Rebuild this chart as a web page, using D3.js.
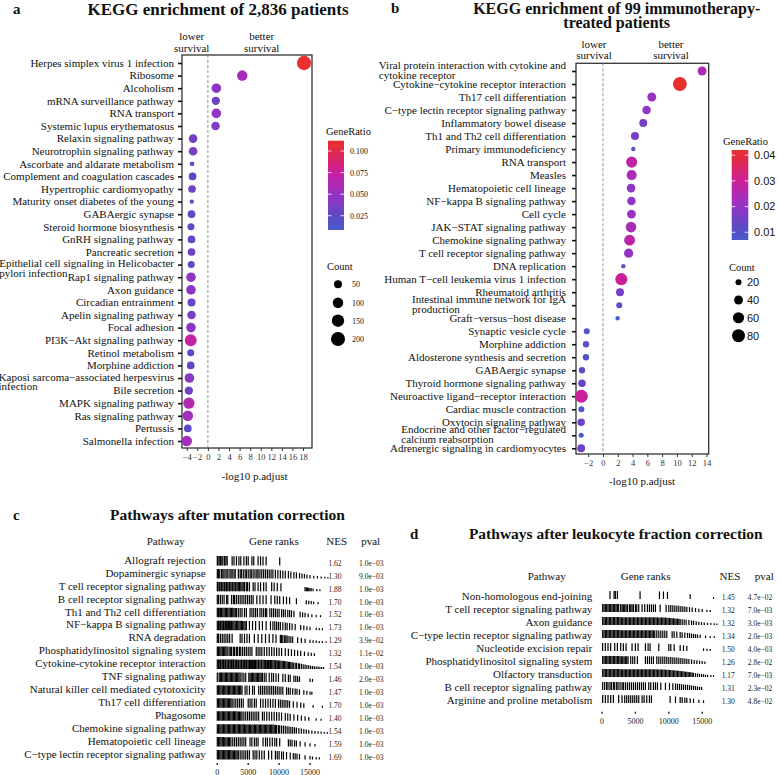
<!DOCTYPE html>
<html><head><meta charset="utf-8">
<script src="https://cdn.jsdelivr.net/npm/d3@7"></script>
<style>
body{margin:0;background:#fff}
svg{display:block}
text{font-family:"Liberation Serif","Times New Roman",serif;fill:#111}
</style>
</head><body>
<svg id="chart" width="779" height="775"></svg>
<script>
// ---------------- DATA ----------------
// Panel a
const aPathways = ["Herpes simplex virus 1 infection","Ribosome","Alcoholism","mRNA surveillance pathway","RNA transport","Systemic lupus erythematosus","Relaxin signaling pathway","Neurotrophin signaling pathway","Ascorbate and aldarate metabolism","Complement and coagulation cascades","Hypertrophic cardiomyopathy","Maturity onset diabetes of the young","GABAergic synapse","Steroid hormone biosynthesis","GnRH signaling pathway","Pancreatic secretion","Epithelial cell signaling in Helicobacter\npylori infection","Rap1 signaling pathway","Axon guidance","Circadian entrainment","Apelin signaling pathway","Focal adhesion","PI3K\u2212Akt signaling pathway","Retinol metabolism","Morphine addiction","Kaposi sarcoma\u2212associated herpesvirus\ninfection","Bile secretion","MAPK signaling pathway","Ras signaling pathway","Pertussis","Salmonella infection"];
const aLogP = [18.2,6.5,1.6,1.5,1.6,1.45,-2.8,-2.8,-3.0,-2.9,-3.0,-3.05,-3.1,-3.2,-3.1,-3.1,-3.15,-3.2,-3.2,-3.1,-3.1,-3.2,-3.25,-3.25,-3.25,-3.5,-3.6,-3.6,-3.8,-3.8,-4.0];
const aCount = [210,100,80,55,80,60,60,60,10,45,45,8,45,35,45,45,35,80,80,50,60,80,135,35,45,80,55,120,100,45,100];
const aGeneRatio = [0.112,0.057,0.045,0.032,0.048,0.038,0.035,0.036,0.014,0.028,0.03,0.013,0.028,0.024,0.03,0.03,0.025,0.045,0.045,0.03,0.036,0.045,0.072,0.024,0.028,0.042,0.033,0.063,0.053,0.026,0.055];
const aXTicks = [-4,-2,0,2,4,6,8,10,12,14,16,18];
const aRatioTicks = [0.025,0.05,0.075,0.1];
const aCountLegend = [50,100,150,200];

// Panel b
const bPathways = ["Viral protein interaction with cytokine and\ncytokine receptor","Cytokine\u2212cytokine receptor interaction","Th17 cell differentiation","C\u2212type lectin receptor signaling pathway","Inflammatory bowel disease","Th1 and Th2 cell differentiation","Primary immunodeficiency","RNA transport","Measles","Hematopoietic cell lineage","NF\u2212kappa B signaling pathway","Cell cycle","JAK\u2212STAT signaling pathway","Chemokine signaling pathway","T cell receptor signaling pathway","DNA replication","Human T\u2212cell leukemia virus 1 infection","Rheumatoid arthritis","Intestinal immune network for IgA\nproduction","Graft\u2212versus\u2212host disease","Synaptic vesicle cycle","Morphine addiction","Aldosterone synthesis and secretion","GABAergic synapse","Thyroid hormone signaling pathway","Neuroactive ligand\u2212receptor interaction","Cardiac muscle contraction","Oxytocin signaling pathway","Endocrine and other factor\u2212regulated\ncalcium reabsorption","Adrenergic signaling in cardiomyocytes"];
const bLogP = [13.4,10.4,6.6,5.9,5.45,4.33,4.1,3.88,3.88,3.8,3.85,3.85,3.79,3.6,3.47,2.75,2.48,2.3,2.2,1.98,-2.2,-2.3,-2.3,-2.84,-2.84,-2.93,-2.93,-2.95,-2.95,-2.95];
const bCount = [40,90,40,37,33,33,12,60,50,38,37,40,55,58,42,12,70,33,20,12,20,22,22,22,30,80,20,30,15,32];
const bGeneRatio = [0.025,0.042,0.021,0.02,0.016,0.017,0.008,0.028,0.024,0.019,0.019,0.021,0.024,0.027,0.02,0.008,0.03,0.016,0.011,0.007,0.009,0.01,0.01,0.011,0.014,0.03,0.009,0.015,0.007,0.015];
const bXTicks = [-2,0,2,4,6,8,10,12,14];
const bRatioTicks = [0.01,0.02,0.03,0.04];
const bCountLegend = [20,40,60,80];

// Panel c (gene ranks written in hundreds)
const cPathways = ["Allograft rejection","Dopaminergic synapse","T cell receptor signaling pathway","B cell receptor signaling pathway","Th1 and Th2 cell differentiation","NF\u2212kappa B signaling pathway","RNA degradation","Phosphatidylinositol signaling system","Cytokine-cytokine receptor interaction","TNF signaling pathway","Natural killer cell mediated cytotoxicity","Th17 cell differentiation","Phagosome","Chemokine signaling pathway","Hematopoietic cell lineage","C\u2212type lectin receptor signaling pathway"];
const cNES = [1.62,1.30,1.88,1.70,1.52,1.73,1.29,1.32,1.54,1.46,1.47,1.70,1.40,1.54,1.59,1.69];
const cPval = [1.0e-3,9.0e-3,1.0e-3,1.0e-3,1.0e-3,1.0e-3,3.9e-2,1.1e-2,1.0e-3,2.0e-3,1.0e-3,1.0e-3,1.0e-3,1.0e-3,1.0e-3,1.0e-3];
const cRanks = [
"0 1 3 5 6 8 11 12 14 16 24 27 31 35 38 43 47 50 56 59 66 70 74 79 101",
"0 2 4 7 9 11 14 16 19 22 24 27 29 34 37 39 42 45 47 50 53 55 58 61 64 66 69 72 75 78 81 84 87 90 94 98 102 106 110 115 119 124 128 133 137 141 145 150 156 162 168 174 179",
"0 1 3 4 6 7 9 11 12 14 15 17 19 20 22 24 25 27 29 30 32 34 36 38 40 42 44 47 49 52 58 61 66 70 75 79 88 92 97 103 142 144 146 148 150 152 155 161 166",
"0 2 5 8 11 15 17 23 26 28 31 34 37 40 43 46 49 52 55 58 64 69 74 79 87 93 97 101 107 112 117 128 144 148 152 156 163",
"0 2 3 5 7 9 11 13 15 17 19 21 23 25 27 29 31 34 37 40 44 47 53 56 59 62 65 69 72 75 78 80 85 88 91 94 97 100 104 107 110 114 117 120 124 134 138 142 147 153 160 167",
"0 2 3 5 6 8 10 11 13 15 16 18 20 21 23 25 27 29 31 33 35 37 39 41 43 45 47 52 57 62 68 73 79 86 90 93 96 99 102 106 110 113 117 121 126 135 140 145 150 160 165 170",
"0 2 5 8 11 14 17 20 24 37 40 44 48 52 60 66 72 78 84 90 95 102 104 106 109 111 113 116 119 122 130 136 142 150 155 160 165 170 176",
"0 2 4 6 8 10 12 14 16 19 21 23 26 28 31 33 36 38 41 44 47 50 53 56 63 66 69 72 76 80 84 88 92 96 100 104 110 115 120 125 130 135 141 147 152 157",
"0 2 3 5 6 8 10 11 13 14 16 18 19 21 23 24 26 27 29 31 32 34 35 37 39 40 42 44 45 47 48 50 52 54 55 57 59 60 62 64 66 67 69 71 72 74 76 78 79 81 83 85 86 88 90 92 94 95 97 99 101 103 105 107 109 111 113 115 117 119 121 123 126 128 131 133 136 139 142 145 148 151 154 157 160 163 166 169 172",
"0 3 5 7 9 11 13 15 17 19 21 23 25 27 29 31 33 35 37 40 43 46 51 53 55 57 59 61 63 65 67 69 71 73 76 79 84 88 91 95 99 106 110 115 118 124 127 130 133 150 154",
"0 2 4 6 8 10 12 14 16 18 20 22 24 26 28 30 32 34 36 38 40 45 48 52 57 60 67 70 73 76 79 82 85 88 91 94 97 100 103 106 112 115 118 122 126 129 133 140 145 150 153",
"0 2 4 6 8 10 12 14 16 18 20 22 24 27 30 33 36 39 42 50 53 56 60 63 70 74 78 82 86 90 94 99 102 105 108 111 114 117 123 129 135 140 155 170",
"0 2 4 6 8 10 12 14 16 18 20 22 24 26 28 30 32 34 36 38 40 43 46 49 52 55 58 61 64 67 73 76 80 84 88 92 96 100 104 110 114 118 124 130 136 142 148 160 168",
"0 2 4 6 8 10 12 14 16 18 20 22 24 26 28 30 32 34 36 38 40 42 44 46 48 50 52 54 56 58 60 62 64 66 68 70 72 74 76 78 80 82 84 86 88 90 92 94 96 99 101 104 107 110 113 116 119 122 125 128 132 136 140 144 148 153 158 163 168 173 178",
"0 2 4 6 8 10 12 14 16 18 20 22 25 28 31 34 37 40 43 46 53 56 60 63 66 74 78 81 85 89 93 96 101 115 118 121 125 128 134 142 150 158",
"0 2 4 6 8 10 12 14 16 18 20 22 24 26 28 30 32 34 37 40 43 46 49 52 58 61 64 68 72 76 83 88 94 97 100 104 107 112 118 123 126 129 133 142 150 154 160 165"
];

// Panel d (gene ranks written in hundreds)
const dPathways = ["Non-homologous end-joining","T cell receptor signaling pathway","Axon guidance","C\u2212type lectin receptor signaling pathway","Nucleotide excision repair","Phosphatidylinositol signaling system","Olfactory transduction","B cell receptor signaling pathway","Arginine and proline metabolism"];
const dNES = [1.45,1.32,1.32,1.34,1.50,1.26,1.17,1.31,1.30];
const dPval = [4.7e-2,7.0e-3,3.0e-3,2.0e-3,4.0e-3,2.8e-2,7.0e-3,2.3e-2,4.8e-2];
const dRanks = [
"12 18 20 23 57 86 92 98 132 167",
"1 3 5 7 9 11 13 15 17 19 21 23 25 28 30 32 34 36 38 41 43 45 47 50 52 55 60 64 68 71 74 77 80 87 96 100 103 106 109 112 115 118 121 124 127 131 135 140 145 150 157 162",
"1 3 5 7 9 11 13 15 17 19 21 23 25 27 29 31 33 35 37 39 41 43 45 47 49 51 53 55 57 59 61 63 65 67 69 71 73 75 77 79 81 83 85 87 89 91 93 95 97 99 101 103 105 107 109 111 113 115 117 120 123 126 130 134 137 141 145 149 153 158 163 168 172",
"1 3 5 7 9 11 13 15 17 19 21 23 25 27 29 31 33 35 37 39 41 43 45 47 49 51 53 55 57 59 61 63 65 67 69 71 73 75 77 79 82 85 88 91 94 97 105 108 112 117 120 124 128 131 134 137 140 143 147 155 162 168",
"1 5 9 13 19 23 28 32 36 45 50 54 65 69 72 85 100 103 108 117 122 127 152 157 162",
"1 3 5 7 9 11 13 15 17 19 21 23 25 27 29 31 33 35 37 39 43 46 49 53 65 68 71 74 77 82 85 88 91 94 97 100 103 106 109 112 115 118 121 124 127 130 134 138 142 146 150 154",
"1 3 5 7 9 11 13 15 17 19 21 23 25 27 29 31 33 35 37 39 41 43 45 47 49 51 53 55 57 59 61 63 65 67 69 71 73 75 77 79 81 83 85 87 89 91 93 95 97 99 101 103 105 107 109 111 113 115 117 119 121 123 125 127 129 131 133 135 137 140 143 146 149 152 155 158 163 167",
"1 4 7 9 12 14 17 19 22 24 27 30 32 35 38 41 44 47 50 53 56 59 62 65 70 73 77 80 83 88 95 101 106 110 113 116 119 122 125 128 131 134 137 140 143 146 149",
"1 5 9 13 17 25 30 34 37 40 43 46 49 52 55 60 63 67 71 74 102 110 117 120 124 127 132 137 145 152"
];
const rankTicks = [0,5000,10000,15000];
// relative ranked-statistic profile (controls tick heights)
const statRanks = [0,9000,11000,13000,14500,15500,17000,18500];
const statValues = [1,0.95,0.82,0.62,0.42,0.3,0.2,0.14];

// colour ramp of GeneRatio (fraction of range -> colour)
const rampStops = [0,0.16,0.4,0.64,0.88,1];
const rampColors = ["#4A5CC8","#5E48C4","#9A32C4","#C8209E","#E02848","#E8302E"];

// ---------------- DRAW ----------------
const svg = d3.select("#chart");
const SANS = '"Liberation Sans",Arial,sans-serif';

function txt(g, x, y, s, opt={}) {
  const t = g.append("text").attr("x", x).attr("y", y).text(s)
    .attr("font-size", opt.size || 11)
    .attr("text-anchor", opt.anchor || "start");
  if (opt.weight) t.attr("font-weight", opt.weight);
  if (opt.family) t.style("font-family", opt.family);
  if (opt.fill) t.style("fill", opt.fill);
  return t;
}

function dotPanel(o) {
  const g = svg.append("g");
  const x = d3.scaleLinear().domain(o.xDomain).range([o.box[0], o.box[2]]);
  const y = d3.scalePoint().domain(o.pathways).range(o.yRange);
  const r = d3.scaleSqrt().domain(o.sizeDomain).range(o.sizeRange);
  const [c0, c1] = o.colorDomain;
  const color = d3.scaleLinear().domain(rampStops.map(t => c0 + t * (c1 - c0))).range(rampColors);

  // frame and zero line
  g.append("rect").attr("x", o.box[0]).attr("y", o.box[1])
    .attr("width", o.box[2] - o.box[0]).attr("height", o.box[3] - o.box[1])
    .attr("fill", "none").attr("stroke", "#333").attr("stroke-width", 1.3);
  g.append("line").attr("x1", x(0)).attr("x2", x(0)).attr("y1", o.box[1]).attr("y2", o.box[3])
    .attr("stroke", "#777").attr("stroke-width", 0.8).attr("stroke-dasharray", "3,2");

  // x axis
  const xa = g.append("g").attr("transform", `translate(0,${o.box[3]})`)
    .call(d3.axisBottom(x).tickValues(o.xTicks).tickSize(3).tickPadding(3));
  xa.select(".domain").remove();
  xa.selectAll(".tick line").attr("stroke", "#333");
  xa.selectAll(".tick text").attr("font-size", 8.5).style("font-family", '"Liberation Serif",serif').style("fill", "#333");

  // y axis ticks
  const ya = g.append("g").attr("transform", `translate(${o.box[0]},0)`)
    .call(d3.axisLeft(y).tickSize(4).tickFormat(""));
  ya.select(".domain").remove();
  ya.selectAll(".tick line").attr("stroke", "#111").attr("stroke-width", 1.6);

  // y labels (multi-line: first line right aligned, second aligned to its start)
  o.pathways.forEach(p => {
    const lines = p.split("\n");
    const yy = y(p);
    if (lines.length === 1) {
      txt(g, o.labelX, yy + 3.8, p, {anchor: "end", size: 11});
    } else {
      const t1 = txt(g, o.labelX, yy + o.ml[0] + 3.8, lines[0], {anchor: "end", size: 11});
      const w = t1.node().getComputedTextLength();
      txt(g, o.labelX - w, yy + o.ml[1] + 3.8, lines[1], {anchor: "start", size: 11});
    }
  });

  // dots
  g.selectAll("circle.dot").data(o.pathways).join("circle")
    .attr("cx", (d, i) => x(o.logp[i])).attr("cy", d => y(d))
    .attr("r", (d, i) => r(o.count[i]))
    .attr("fill", (d, i) => color(o.ratio[i]));

  // survival annotations
  txt(g, o.lowerX, o.annY[0], "lower", {anchor: "middle", size: 11});
  txt(g, o.lowerX, o.annY[1], "survival", {anchor: "middle", size: 11});
  txt(g, o.betterX, o.annY[0], "better", {anchor: "middle", size: 11});
  txt(g, o.betterX, o.annY[1], "survival", {anchor: "middle", size: 11});

  // axis title
  txt(g, o.axisTitleX, o.axisTitleY, "-log10 p.adjust", {anchor: "middle", size: 11});

  // colour legend
  const L = o.legend;
  txt(g, L.titleX, L.titleY, "GeneRatio", {size: 10.5});
  const gid = "grad" + o.id;
  const grad = svg.append("defs").append("linearGradient").attr("id", gid)
    .attr("x1", 0).attr("y1", 1).attr("x2", 0).attr("y2", 0);
  d3.range(0, 1.0001, 0.05).forEach(t => {
    grad.append("stop").attr("offset", t).attr("stop-color", color(c0 + t * (c1 - c0)));
  });
  g.append("rect").attr("x", L.barX).attr("y", L.barY0).attr("width", L.barW).attr("height", L.barY1 - L.barY0)
    .attr("fill", `url(#${gid})`);
  const cy = d3.scaleLinear().domain([c0, c1]).range([L.barY1, L.barY0]);
  o.ratioTicks.forEach(v => {
    [[L.barX, L.barX + 3.5], [L.barX + L.barW - 3.5, L.barX + L.barW]].forEach(([a, b]) =>
      g.append("line").attr("x1", a).attr("x2", b).attr("y1", cy(v)).attr("y2", cy(v))
        .attr("stroke", "#fff").attr("stroke-width", 0.8));
    txt(g, L.labX, cy(v) + (L.labSans ? 3.8 : 3), d3.format(L.fmt)(v),
      {size: L.labSize, family: L.labSans ? SANS : null});
  });
  // size legend
  txt(g, L.countX, L.countY, "Count", {size: 10.5});
  o.countLegend.forEach((v, i) => {
    g.append("circle").attr("cx", L.dotX).attr("cy", L.dotY[i]).attr("r", r(v)).attr("fill", "#000");
    txt(g, L.dotLabX, L.dotY[i] + (L.labSans ? 3.8 : 3), v, {size: L.labSize, family: L.labSans ? SANS : null});
  });
}

dotPanel({
  id: "a", pathways: aPathways, logp: aLogP, count: aCount, ratio: aGeneRatio,
  xDomain: [-4.9, 19.7], box: [182, 55, 312, 448], yRange: [63, 441],
  xTicks: aXTicks, sizeDomain: [50, 200], sizeRange: [4, 7], colorDomain: [0.0085, 0.112],
  labelX: 174, ml: [-1, 8.5], lowerX: 191.7, betterX: 261.7, annY: [39.5, 51.5],
  axisTitleX: 254.5, axisTitleY: 479.5, ratioTicks: aRatioTicks, countLegend: aCountLegend,
  legend: {titleX: 326, titleY: 134.5, barX: 328, barY0: 140.7, barY1: 230, barW: 16, labX: 350, fmt: ".3f", labSize: 8,
    countX: 327, countY: 270, dotX: 338, dotY: [284.3, 302.7, 320.7, 339], dotLabX: 352, labSans: false}
});

dotPanel({
  id: "b", pathways: bPathways, logp: bLogP, count: bCount, ratio: bGeneRatio,
  xDomain: [-3.65, 14.3], box: [576, 63.3, 708.7, 454], yRange: [71, 448.3],
  xTicks: bXTicks, sizeDomain: [20, 80], sizeRange: [3, 6.5], colorDomain: [0.007, 0.042],
  labelX: 566, ml: [-6, 4], lowerX: 594, betterX: 671, annY: [47.5, 59],
  axisTitleX: 642, axisTitleY: 485, ratioTicks: bRatioTicks, countLegend: bCountLegend,
  legend: {titleX: 723, titleY: 145, barX: 731.7, barY0: 150, barY1: 240, barW: 16.6, labX: 754, fmt: ".2f", labSize: 11,
    countX: 729, countY: 270.5, dotX: 738.5, dotY: [282.3, 300, 317.7, 335.7], dotLabX: 747, labSans: true}
});

// panel titles
txt(svg, 13, 13.5, "a", {size: 15, weight: "bold"});
txt(svg, 218, 14.5, "KEGG enrichment of 2,836 patients", {size: 17, weight: "bold", anchor: "middle"});
txt(svg, 391, 12.5, "b", {size: 15, weight: "bold"});
txt(svg, 616.7, 13.5, "KEGG enrichment of 99 immunotherapy-", {size: 16, weight: "bold", anchor: "middle"});
txt(svg, 616.7, 28, "treated patients", {size: 16, weight: "bold", anchor: "middle"});

// ---------- GSEA tables ----------
const fmtP = p => {
  const [m, e] = p.toExponential(1).split("e");
  return m + "e" + (e[0] === "-" ? "\u2212" : "+") + String(Math.abs(+e)).padStart(2, "0");
};
const stat = d3.scaleLinear().domain(statRanks).range(statValues).clamp(true);

function gseaPanel(o) {
  const g = svg.append("g");
  const y = d3.scalePoint().domain(o.pathways).range(o.yRange);
  const x = d3.scaleLinear().domain([0, 15000]).range(o.xRange);
  txt(g, o.letterX, o.titleY, o.letter, {size: 15, weight: "bold"});
  txt(g, o.titleX, o.titleY, o.title, {size: 15.5, weight: "bold", anchor: "middle"});
  txt(g, o.head[0], o.headY, "Pathway", {size: 11, anchor: "middle"});
  txt(g, o.head[1], o.headY, "Gene ranks", {size: 11, anchor: "middle"});
  txt(g, o.head[2], o.headY, "NES", {size: 11, anchor: "middle"});
  txt(g, o.head[3], o.headY, "pval", {size: 11, anchor: "middle"});
  o.pathways.forEach((p, i) => {
    const yy = y(p);
    txt(g, o.labelX, yy + 3.8, p, {size: 11, anchor: "end"});
    const ranks = o.ranks[i].split(" ").map(v => +v * 100);
    const base = yy + o.barBase;
    g.append("g").selectAll("line").data(ranks).join("line")
      .attr("x1", d => x(d)).attr("x2", d => x(d))
      .attr("y1", base).attr("y2", d => base - o.barH * stat(d))
      .attr("stroke", "#000").attr("stroke-width", 1.2);
    txt(g, o.nesX, yy + o.valDy, d3.format(".2f")(o.nes[i]), {size: 7.5, anchor: "middle", fill: "#222"});
    txt(g, o.pvalX, yy + o.valDy, fmtP(o.pval[i]), {size: 7.5, anchor: "middle", fill: "#222"});
  });
  rankTicks.forEach(t => {
    g.append("rect").attr("x", x(t) - 0.7).attr("y", o.axisY - 1).attr("width", 1.4).attr("height", 2).attr("fill", "#222");
    txt(g, x(t), o.axisLabY, t, {size: 8, anchor: "middle", fill: "#222"});
  });
}

gseaPanel({
  letter: "c", letterX: 13, title: "Pathways after mutation correction", titleX: 227.5, titleY: 520,
  head: [165.7, 274, 336.7, 370.7], headY: 544.5,
  pathways: cPathways, ranks: cRanks, nes: cNES, pval: cPval,
  yRange: [560, 754], xRange: [217.3, 310], labelX: 205.7,
  barBase: 5.5, barH: 9.5, nesX: 335, pvalX: 371.3, valDy: 5.7, axisY: 764, axisLabY: 774.5
});

gseaPanel({
  letter: "d", letterX: 410, title: "Pathways after leukocyte fraction correction", titleX: 615.8, titleY: 539,
  head: [546.7, 645.7, 730, 764.3], headY: 580,
  pathways: dPathways, ranks: dRanks, nes: dNES, pval: dPval,
  yRange: [596, 700], xRange: [602, 702.2], labelX: 592.3,
  barBase: 3, barH: 8, nesX: 728.3, pvalX: 760, valDy: 4, axisY: 712.7, axisLabY: 724
});
</script>
</body></html>
